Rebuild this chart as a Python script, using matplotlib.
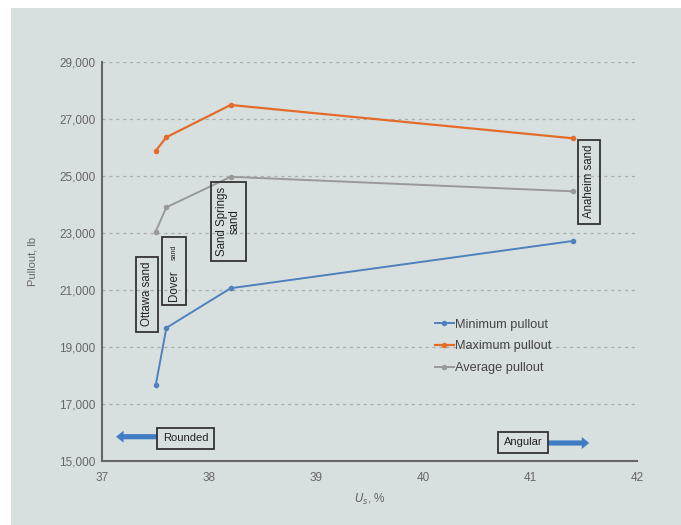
import matplotlib
matplotlib.use("Agg")
import matplotlib.pyplot as plt
from matplotlib.patches import Rectangle, FancyArrow
from matplotlib.ticker import FuncFormatter

# Data
us = [37.5, 37.6, 38.2, 41.4]
min_pullout = [17650, 19670, 21060, 22720]
max_pullout = [25880, 26360, 27490, 26320]
avg_pullout = [23050, 23900, 24970, 24460]

sand_labels = ["Ottawa sand", "Sand Springs\nsand", "Anaheim sand"]
sand_x = [37.42, 38.18, 41.55]
sand_y = [20850, 23400, 24800]

bg = "#d8e0df"
plt.rcParams["font.family"] = ["Liberation Sans", "DejaVu Sans"]

fig = plt.figure(figsize=(6.81, 5.25), dpi=100, facecolor="white")
fig.patches.append(Rectangle((11 / 681, 0), 1, 1 - 8 / 525, transform=fig.transFigure,
                             facecolor=bg, edgecolor="none", zorder=-10))
ax = fig.add_axes([0.150, 0.122, 0.786, 0.760])
ax.set_facecolor(bg)

ax.plot(us, min_pullout, "-o", color="#4f81bd", lw=1.4, ms=3, label="Minimum pullout")
ax.plot(us, max_pullout, "-o", color="#e46c2a", lw=1.6, ms=3, label="Maximum pullout")
ax.plot(us, avg_pullout, "-o", color="#999999", lw=1.4, ms=3, label="Average pullout")

ax.set_xlim(37, 42)
ax.set_ylim(15000, 29000)
ax.set_yticks(range(15000, 29001, 2000))
ax.set_xticks(range(37, 43))
ax.yaxis.set_major_formatter(FuncFormatter(lambda v, p: f"{int(v):,}"))
ax.grid(axis="y", color="#a8aeae", ls=(0, (2.5, 3)), lw=0.9)
ax.set_axisbelow(True)
for s in ["top", "right"]:
    ax.spines[s].set_visible(False)
for s in ["left", "bottom"]:
    ax.spines[s].set_color("#666666")
    ax.spines[s].set_linewidth(1.5)
ax.tick_params(axis="both", colors="#666666", labelsize=8.5, length=0, pad=5)
ax.tick_params(axis="x", pad=8)

ax.set_ylabel("Pullout, lb", fontsize=8, color="#666666", labelpad=15)
ax.set_xlabel("$U_s$, %", fontsize=8.5, color="#666666", labelpad=6)

box = dict(boxstyle="square,pad=0.45", facecolor="none", edgecolor="#333333", lw=1.3)
for lbl, x, y in zip(sand_labels, sand_x, sand_y):
    ax.text(x, y, lbl, rotation=90, ha="center", va="center", fontsize=8.3,
            color="#222222", bbox=box, linespacing=1.0)

# Dover box with small "sand"
ax.add_patch(Rectangle((37.56, 20480), 0.22, 2380, facecolor="none",
                       edgecolor="#333333", lw=1.3))
ax.text(37.67, 21150, "Dover", rotation=90, ha="center", va="center",
        fontsize=8.3, color="#222222")
ax.text(37.675, 22330, "sand", rotation=90, ha="center", va="center",
        fontsize=5, color="#222222")

# shape arrows
ax.add_patch(FancyArrow(37.55, 15850, -0.42, 0, width=180, head_width=420,
                        head_length=0.07, length_includes_head=True,
                        color="#3f7cc4", lw=0))
ax.add_patch(FancyArrow(41.15, 15630, 0.4, 0, width=180, head_width=420,
                        head_length=0.07, length_includes_head=True,
                        color="#3f7cc4", lw=0))
ax.text(37.78, 15790, "Rounded", ha="center", va="center", fontsize=8,
        color="#222222", bbox=dict(boxstyle="square,pad=0.5", facecolor=bg,
                                   edgecolor="#333333", lw=1.3))
ax.text(40.93, 15650, "Angular", ha="center", va="center", fontsize=8,
        color="#222222", bbox=dict(boxstyle="square,pad=0.5", facecolor=bg,
                                   edgecolor="#333333", lw=1.3))

ax.legend(loc="upper left", bbox_to_anchor=(0.6, 0.385), frameon=False,
          fontsize=9.2, handlelength=1.5, handletextpad=0.1, labelspacing=0.75,
          labelcolor="#444444")

fig.savefig("out.png", dpi=100, facecolor="white")
